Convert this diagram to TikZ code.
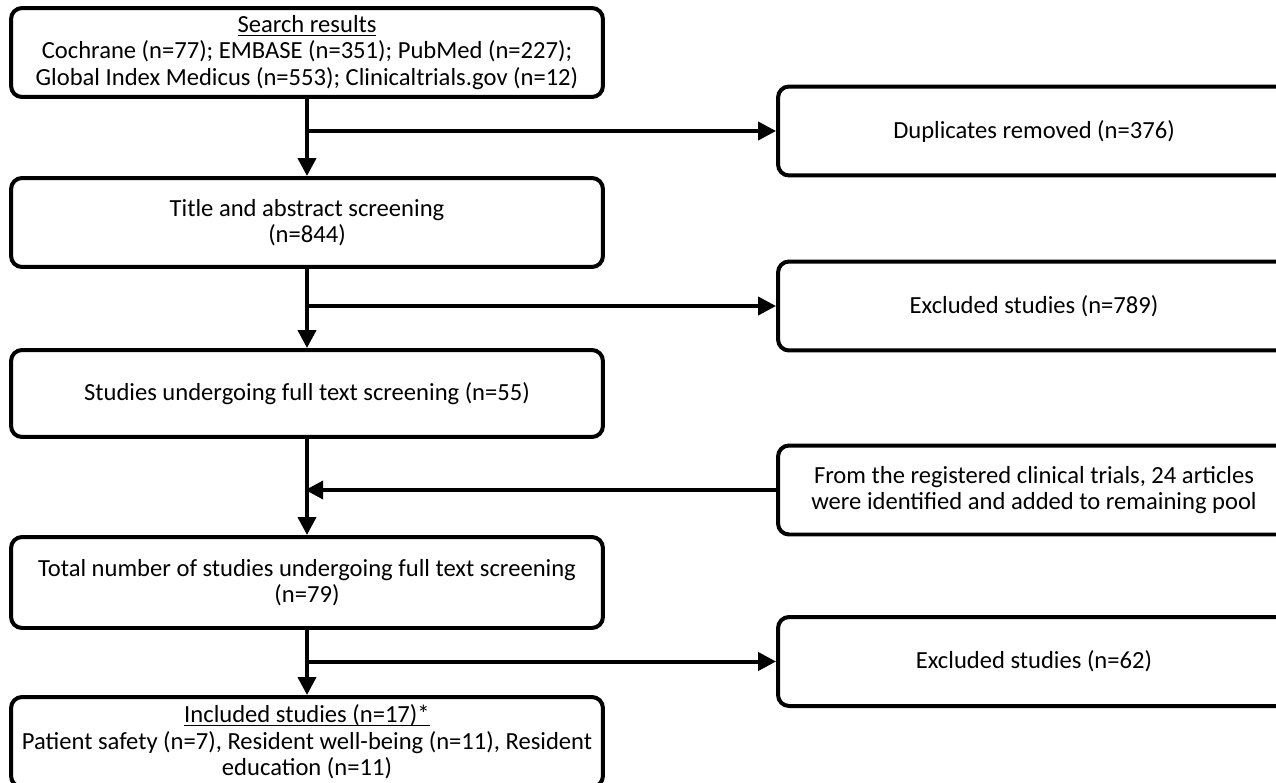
\documentclass[tikz,border=0pt]{standalone}
\usepackage{fontspec}
\setmainfont{Carlito}
\usetikzlibrary{positioning,arrows.meta}
\newcommand{\ulin}[1]{\setbox0\hbox{#1}\rlap{\rule[-1.8pt]{\wd0}{0.7pt}}\box0}

\begin{document}
\begin{tikzpicture}[x=0.02cm,y=-0.02cm]
    \tikzstyle{rec} = [rectangle, rounded corners=0.22cm, draw, line width=0.08cm, align=center, inner sep=0pt, font=\fontsize{14}{15}\selectfont]
    \tikzstyle{lbox} = [rec, minimum width=11.84cm]
    \tikzstyle{rbox} = [rec, minimum width=10.24cm, minimum height=1.78cm]
    \tikzstyle{arr} = [line width=0.08cm, -{Triangle[length=0.36cm,width=0.36cm]}]
    \useasboundingbox (0,0) rectangle (1276,782);
    \node [lbox, minimum height=1.78cm] (search) at (307,52.5) {\ulin{Search results}\\Cochrane (n=77); EMBASE (n=351); PubMed (n=227);\\Global Index Medicus (n=553); Clinicaltrials.gov (n=12)};
    \node [lbox, minimum height=1.78cm] (title) at (307,222.5) {Title and abstract screening\\(n=844)};
    \node [lbox, minimum height=1.74cm] (full) at (307,393.5) {Studies undergoing full text screening (n=55)};
    \node [lbox, minimum height=1.82cm] (total) at (307,582.5) {Total number of studies undergoing full text screening\\(n=79)};
    \node [lbox, minimum height=1.8cm] (incl) at (307,742) {\ulin{Included studies (n=17)*}\\Patient safety (n=7), Resident well-being (n=11), Resident\\education (n=11)};
    \node [rbox] (dup) at (1034,131) {Duplicates removed (n=376)};
    \node [rbox] (excl1) at (1034,306) {Excluded studies (n=789)};
    \node [rbox] (reg) at (1034,490) {From the registered clinical trials, 24 articles\\were identified and added to remaining pool};
    \node [rbox] (excl2) at (1034,661.5) {Excluded studies (n=62)};
    \draw [arr] (search.south) -- (title.north);
    \draw [arr] (dup.west -| search.south) -- (dup.west);
    \draw [arr] (title.south) -- (full.north);
    \draw [arr] (excl1.west -| title.south) -- (excl1.west);
    \draw [arr] (full.south) -- (total.north);
    \draw [arr, shorten >=-1pt] (reg.west) -- (reg.west -| full.south);
    \draw [arr] (total.south) -- (incl.north);
    \draw [arr] (excl2.west -| total.south) -- (excl2.west);
\end{tikzpicture}
\end{document}
